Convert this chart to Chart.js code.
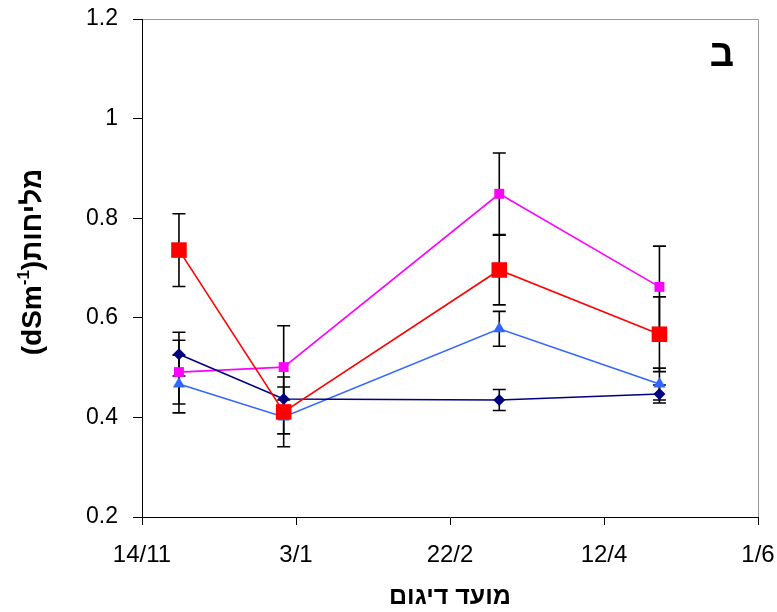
<!DOCTYPE html>
<html>
<head>
<meta charset="utf-8">
<script src="https://cdn.jsdelivr.net/npm/chart.js@4.4.0/dist/chart.umd.min.js"></script>
<style>
  html, body { margin: 0; padding: 0; background: #fff; }
  #wrap { width: 777px; height: 612px; }
</style>
</head>
<body>
<div id="wrap"><canvas id="chart" width="777" height="612"></canvas></div>
<script>
// x axis: days counted from 14/11
const tickDays = [0, 50, 100, 150, 200];
const tickLabels = ['14/11', '3/1', '22/2', '12/4', '1/6'];
const sampleDays = [12, 46, 116, 168];

// series values and their error bars
const redVals = [0.736, 0.411, 0.696, 0.567];
const redErr = [0.073, 0.07, 0.07, 0.075];
const navyVals = [0.527, 0.437, 0.435, 0.447];
const navyErr = [0.044, 0.024, 0.021, 0.018];
const pinkVals = [0.491, 0.501, 0.849, 0.662];
const pinkErr = [0.064, 0.083, 0.082, 0.082];
const blueVals = [0.467, 0.401, 0.578, 0.467];
const blueErr = [0.058, 0.034, 0.035, 0.032];

const FONT = '"Liberation Sans", Arial, sans-serif';
const toPoints = vals => vals.map((v, i) => ({ x: sampleDays[i], y: v }));

function series(label, vals, errs, color, style, radius) {
    return {
        label: label,
        data: toPoints(vals),
        errors: errs,
        borderColor: color,
        backgroundColor: color,
        borderWidth: 1.6,
        pointStyle: style,
        pointRadius: radius,
        pointBorderWidth: 0,
        pointBackgroundColor: color,
        tension: 0
    };
}

// error bars drawn under the lines and markers
const errorBars = {
    id: 'errorBars',
    beforeDatasetsDraw(chart) {
        const { ctx, scales: { x, y } } = chart;
        ctx.save();
        ctx.strokeStyle = '#000';
        ctx.lineWidth = 1.6;
        chart.data.datasets.forEach(ds => {
            ds.data.forEach((p, i) => {
                const px = x.getPixelForValue(p.x);
                const top = y.getPixelForValue(p.y + ds.errors[i]);
                const bot = y.getPixelForValue(p.y - ds.errors[i]);
                ctx.beginPath();
                ctx.moveTo(px, top); ctx.lineTo(px, bot);
                ctx.moveTo(px - 6.5, top); ctx.lineTo(px + 6.5, top);
                ctx.moveTo(px - 6.5, bot); ctx.lineTo(px + 6.5, bot);
                ctx.stroke();
            });
        });
        ctx.restore();
    }
};

// grey top/right frame, y title with superscript, panel letter
const decorations = {
    id: 'decorations',
    beforeDraw(chart) {
        const { ctx, chartArea: a } = chart;
        ctx.save();
        ctx.strokeStyle = '#999';
        ctx.lineWidth = 1;
        ctx.beginPath();
        ctx.moveTo(a.left, a.top + 0.5);
        ctx.lineTo(a.right + 0.5, a.top + 0.5);
        ctx.lineTo(a.right + 0.5, a.bottom);
        ctx.stroke();
        ctx.restore();
    },
    afterDraw(chart) {
        const { ctx, chartArea: a } = chart;
        ctx.save();
        ctx.fillStyle = '#000';
        ctx.direction = 'ltr';
        ctx.textBaseline = 'alphabetic';
        ctx.textAlign = 'left';
        const main = 'bold 28px ' + FONT;
        const sup = 'bold 17px ' + FONT;
        const parts = [
            { t: '(dSm', f: main, dy: 0 },
            { t: '-1', f: sup, dy: -12 },
            { t: ')', f: main, dy: 0 },
            { t: 'מליחות', f: main, dy: 0 }
        ];
        let total = 0;
        parts.forEach(p => { ctx.font = p.f; p.w = ctx.measureText(p.t).width; total += p.w; });
        ctx.translate(41, (a.top + a.bottom) / 2 - 6);
        ctx.rotate(-Math.PI / 2);
        let cx = -total / 2;
        parts.forEach(p => {
            ctx.font = p.f;
            ctx.fillText(p.t, cx, p.dy);
            cx += p.w;
        });
        ctx.restore();

        ctx.save();
        ctx.fillStyle = '#000';
        ctx.font = 'bold 38px ' + FONT;
        ctx.textAlign = 'center';
        ctx.textBaseline = 'middle';
        ctx.fillText('ב', 722, 56);
        ctx.restore();
    }
};

new Chart(document.getElementById('chart'), {
    type: 'line',
    data: {
        datasets: [
            series('red', redVals, redErr, '#ff0000', 'rect', 11),
            series('navy', navyVals, navyErr, '#000080', 'rectRot', 6),
            series('pink', pinkVals, pinkErr, '#ff00ff', 'rect', 7),
            series('blue', blueVals, blueErr, '#3366ff', 'triangle', 7)
        ]
    },
    options: {
        responsive: false,
        devicePixelRatio: 1,
        animation: false,
        layout: { padding: { top: 19, right: 19, left: 0, bottom: 0 } },
        plugins: { legend: { display: false }, tooltip: { enabled: false } },
        scales: {
            x: {
                type: 'linear',
                min: 0,
                max: 200,
                afterBuildTicks: s => { s.ticks = tickDays.map(v => ({ value: v })); },
                afterFit: s => {
                    s.height = 95;
                    s.paddingLeft = 0;
                    s.paddingRight = 0;
                },
                ticks: {
                    color: '#000',
                    font: { family: FONT, size: 24 },
                    padding: 16,
                    maxRotation: 0,
                    callback: v => tickLabels[tickDays.indexOf(v)]
                },
                grid: { drawOnChartArea: false, color: '#000', tickLength: 8 },
                border: { color: '#000', width: 1 },
                title: {
                    display: true,
                    text: 'מועד דיגום',
                    color: '#000',
                    font: { family: FONT, size: 25, weight: 'bold' },
                    padding: { top: 0, bottom: 0 }
                }
            },
            y: {
                min: 0.2,
                max: 1.2,
                afterFit: s => {
                    s.width = 142;
                    s.paddingTop = 0;
                    s.paddingBottom = 0;
                },
                ticks: {
                    stepSize: 0.2,
                    color: '#000',
                    font: { family: FONT, size: 23 },
                    padding: 15,
                    callback: v => String(Math.round(v * 10) / 10)
                },
                grid: { drawOnChartArea: false, color: '#000', tickLength: 9 },
                border: { color: '#000', width: 1 }
            }
        }
    },
    plugins: [errorBars, decorations]
});
</script>
</body>
</html>
